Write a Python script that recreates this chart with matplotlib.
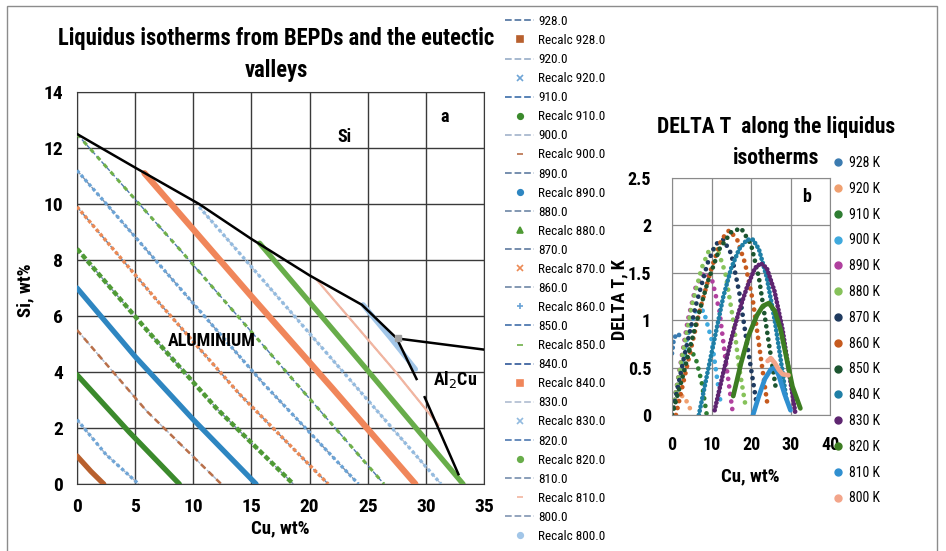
import matplotlib.pyplot as plt
from matplotlib.lines import Line2D
from matplotlib.patches import Rectangle

plt.rcParams['font.family'] = ['Roboto Condensed', 'DejaVu Sans']

# isotherm temperatures (K)
temps = [928, 920, 910, 900, 890, 880, 870, 860, 850, 840, 830, 820, 810, 800]

# liquidus isotherms (Cu wt%, Si wt%)
iso_cu = [
    [0, 1.2, 2.3],
    [0, 2.5, 5.3],
    [0, 4.5, 8.8],
    [0, 6, 12.4],
    [0, 5, 10, 15.4],
    [0, 6, 12, 18.6],
    [0, 7, 14, 21.6],
    [0, 8, 16, 24.2],
    [0, 9, 18, 26.4],
    [5.8, 15, 22, 29.1],
    [10.5, 21, 31.3],
    [15.7, 24.9, 33.2],
    [20.6, 27.2, 31.1],
    [24.6, 27, 29.1],
]
iso_si = [
    [1.0, 0.45, 0.0],
    [2.3, 1.05, 0.0],
    [3.9, 1.85, 0.0],
    [5.5, 2.6, 0.0],
    [7.0, 4.55, 2.3, 0.0],
    [8.4, 5.5, 2.7, 0.0],
    [9.9, 6.5, 3.2, 0.0],
    [11.2, 7.4, 3.6, 0.0],
    [12.5, 8.3, 4.0, 0.0],
    [11.1, 6.7, 3.4, 0.0],
    [9.9, 4.9, 0.0],
    [8.6, 4.1, 0.0],
    [7.3, 4.1, 2.1],
    [6.4, 5.2, 4.1],
]

# eutectic valleys
valley_cu = [0, 5, 10.5, 15, 20, 24.5, 27.5]
valley_si = [12.5, 11.3, 10.0, 8.75, 7.45, 6.4, 5.2]
si_al2cu_cu = [27.5, 35]
si_al2cu_si = [5.2, 4.8]
al2cu_top_cu = [27.5, 29.2]
al2cu_top_si = [5.2, 3.75]
al2cu_low_cu = [29.9, 32.8]
al2cu_low_si = [3.1, 0.35]
ternary_cu = [27.6]
ternary_si = [5.2]

# DELTA T along the isotherms (panel b)
dt_cu = [
    [0, 0.4, 1.0, 1.7, 2.4],
    [0, 1, 2, 3, 4, 5.3],
    [0, 1.5, 3, 4.5, 6, 7.5, 8.8],
    [0, 2, 4, 6, 8, 10, 12.4],
    [0, 2, 4, 6, 8, 10, 12, 13.5, 15.3],
    [0, 2.5, 5, 7.5, 9.5, 11.5, 13.5, 15.5, 17, 18.6],
    [0, 3, 6, 9, 11, 13, 15, 17, 19, 21.5],
    [1, 4, 7, 10, 12.5, 14.5, 16.5, 18.5, 20.5, 22.5, 24.2],
    [0, 3, 6, 9, 12, 15, 17.5, 20, 22, 24, 26.4],
    [6.8, 9, 11, 13, 15, 17, 19, 20.5, 22, 24, 26, 28, 29],
    [10.8, 13, 15, 17, 19, 21, 22.5, 24, 26, 28, 30, 31.3],
    [15.5, 17.5, 19.5, 21.5, 23, 24.5, 26, 27.5, 29, 30.5, 32.5],
    [20.5, 22, 23.5, 25, 26, 27, 28.5, 30],
    [24.2, 25, 26, 27, 28, 29.5],
]
dt_val = [
    [0.65, 0.78, 0.85, 0.85, 0.8],
    [0, 0.12, 0.2, 0.2, 0.12, 0],
    [0, 0.35, 0.6, 0.7, 0.6, 0.35, 0.0],
    [0, 0.45, 0.85, 1.1, 1.1, 0.8, 0.1],
    [0, 0.5, 1.0, 1.35, 1.5, 1.45, 1.1, 0.6, 0.05],
    [0, 0.6, 1.15, 1.55, 1.75, 1.75, 1.5, 1.0, 0.5, 0.1],
    [0, 0.6, 1.15, 1.6, 1.8, 1.85, 1.7, 1.3, 0.75, 0.1],
    [0, 0.55, 1.1, 1.55, 1.85, 1.95, 1.85, 1.6, 1.2, 0.6, 0.1],
    [0, 0.45, 0.95, 1.4, 1.75, 1.93, 1.97, 1.8, 1.45, 0.9, 0.25],
    [0, 0.45, 0.85, 1.25, 1.55, 1.75, 1.85, 1.85, 1.75, 1.45, 1.0, 0.45, 0.15],
    [0.05, 0.45, 0.8, 1.1, 1.35, 1.55, 1.6, 1.55, 1.3, 0.9, 0.35, 0.0],
    [0.2, 0.55, 0.85, 1.05, 1.15, 1.18, 1.1, 0.9, 0.6, 0.3, 0.07],
    [0, 0.2, 0.38, 0.48, 0.5, 0.42, 0.22, 0.05],
    [0.57, 0.6, 0.55, 0.48, 0.43, 0.42],
]

# styles
bepd_colors = ['#5a7ca6', '#9fb3cc', '#4a78b0', '#a9b9cf', '#6b86a8', '#7890ad',
               '#6a84a6', '#7a90ac', '#4f79b0', '#3f65a0', '#b5c2d4', '#5b82b6',
               '#8096b3', '#8a9db8']
recalc_colors = ['#b8602e', '#6fa5d6', '#3b8a2c', '#b9704a', '#2e86c1', '#4f9a35',
                 '#ec8a55', '#6aa3d6', '#6fb04a', '#f0865a', '#92badf', '#68ad4a',
                 '#f2b5a0', '#a2c6e8']
recalc_markers = ['s', 'x', 'o', '_', 'o', '^', 'x', '+', '_', 's', 'x', 'o', '_', 'o']
recalc_ls = ['-', (0, (1, 0.8)), '-', (0, (2.5, 1.8)), '-', (0, (1.2, 0.6)),
             (0, (1, 0.7)), (0, (1, 0.8)), (0, (1.5, 1.8)), '-', (0, (1, 0.8)), '-',
             '-', '-']
recalc_lw = [3.8, 2.4, 3.8, 1.8, 3.8, 3.2, 2.5, 2.4, 2.2, 4.5, 2.4, 3.8, 1.6, 3.8]

dt_colors = ['#3b7bb0', '#f0a070', '#2e7d32', '#3fa9dd', '#b0409e', '#86c25a',
             '#1f3a5f', '#c65a1e', '#1c5530', '#1f7fa6', '#5e2570', '#3d7d22',
             '#2f8fd0', '#f3a58a']
dt_ls = [(0, (0.01, 1.2)), (0, (0.01, 1.6)), (0, (0.01, 1.6)), (0, (0.01, 1.6)),
         (0, (0.01, 1.6)), (0, (0.01, 1.6)), (0, (0.01, 1.5)), (0, (0.01, 1.5)),
         (0, (0.01, 1.4)), (0, (0.01, 0.9)), (0, (0.01, 0.8)), '-', '-', '-']

W, H = 946, 551
fig = plt.figure(figsize=(W / 100, H / 100), dpi=100)
fig.add_artist(Rectangle((7 / W, -0.01), 930 / W, 1.0, transform=fig.transFigure,
                         fill=False, ec='#8c8c8c', lw=1))

# ---- panel a
ax = fig.add_axes([77 / W, 1 - 484 / H, 407 / W, 392 / H])
for i, t in enumerate(temps):
    ax.plot(iso_cu[i], iso_si[i], ls='--', lw=1, color=bepd_colors[i], zorder=2)
    ax.plot(iso_cu[i], iso_si[i], ls=recalc_ls[i], lw=recalc_lw[i],
            color=recalc_colors[i], solid_capstyle='round', zorder=3)
ax.plot(valley_cu, valley_si, color='black', lw=1.8, zorder=5)
ax.plot(si_al2cu_cu, si_al2cu_si, color='black', lw=1.8, zorder=5)
ax.plot(al2cu_top_cu, al2cu_top_si, color='black', lw=1.8, zorder=5)
ax.plot(al2cu_low_cu, al2cu_low_si, color='black', lw=1.8, zorder=5)
ax.plot(ternary_cu, ternary_si, ls='none', marker='s', ms=4, color='#a0a0a0', zorder=6)

ax.set_xlim(0, 35)
ax.set_ylim(0, 14)
ax.set_xticks(range(0, 36, 5))
ax.set_yticks(range(0, 15, 2))
ax.grid(True, color='#3a3a3a', lw=1)
ax.set_axisbelow(True)
for s in ax.spines.values():
    s.set_color('#3a3a3a')
ax.tick_params(length=0, labelsize=14, pad=10)
for lab in ax.get_xticklabels() + ax.get_yticklabels():
    lab.set_fontweight('bold')

ax.text(23, 12.4, 'Si', fontsize=13, weight='bold', ha='center', va='center')
ax.text(31.6, 13.1, 'a', fontsize=13, weight='bold', ha='center', va='center')
ax.text(11.6, 5.1, 'ALUMINIUM', fontsize=13, weight='bold', ha='center', va='center')
ax.text(32.5, 3.75, 'Al$_2$Cu', fontsize=13, weight='bold', ha='center', va='center')

fig.text(276 / W, 1 - 38 / H, 'Liquidus isotherms from BEPDs and the eutectic',
         ha='center', va='center', fontsize=16.3, weight='bold')
fig.text(276 / W, 1 - 70 / H, 'valleys', ha='center', va='center',
         fontsize=16.3, weight='bold')
fig.text(25 / W, 1 - 290 / H, 'Si, wt%', rotation=90, ha='center', va='center',
         fontsize=13.5, weight='bold')
fig.text(280 / W, 1 - 528 / H, 'Cu, wt%', ha='center', va='center',
         fontsize=13.5, weight='bold')

handles, labels = [], []
for i, t in enumerate(temps):
    handles.append(Line2D([], [], ls='--', lw=1.3, color=bepd_colors[i]))
    labels.append(f'{t}.0')
    handles.append(Line2D([], [], ls='none', marker=recalc_markers[i], ms=4,
                          mew=1.2, color=recalc_colors[i]))
    labels.append(f'Recalc {t}.0')
fig.legend(handles, labels, loc='upper left', bbox_to_anchor=(505 / W, 1 - 15 / H),
           frameon=False, fontsize=9.5, handlelength=2.2, handletextpad=0.3,
           labelspacing=0.46, borderpad=0, borderaxespad=0)

# ---- panel b
ax2 = fig.add_axes([672 / W, 1 - 415 / H, 158 / W, 237 / H])
for i, t in enumerate(temps):
    ax2.plot(dt_cu[i], dt_val[i], ls=dt_ls[i], lw=3.4, color=dt_colors[i],
             dash_capstyle='round', solid_capstyle='round', label=f'{t} K')
ax2.set_xlim(0, 40)
ax2.set_ylim(0, 2.5)
ax2.set_xticks(range(0, 41, 10))
ax2.set_yticks([0, 0.5, 1, 1.5, 2, 2.5])
ax2.set_yticklabels(['0', '0.5', '1', '1.5', '2', '2.5'])
ax2.grid(True, color='#8a8a8a', lw=0.9)
ax2.set_axisbelow(True)
for s in ax2.spines.values():
    s.set_color('#8a8a8a')
ax2.tick_params(length=0, labelsize=13, pad=15)
for lab in ax2.get_xticklabels() + ax2.get_yticklabels():
    lab.set_fontweight('bold')
ax2.text(34, 2.3, 'b', fontsize=13, weight='bold', ha='center', va='center')

fig.text(776 / W, 1 - 127 / H, 'DELTA T  along the liquidus', ha='center',
         va='center', fontsize=15.5, weight='bold')
fig.text(776 / W, 1 - 158 / H, 'isotherms', ha='center', va='center',
         fontsize=15.5, weight='bold')
fig.text(619 / W, 1 - 300 / H, 'DELTA T, K', rotation=90, ha='center', va='center',
         fontsize=13, weight='bold')
fig.text(750 / W, 1 - 476 / H, 'Cu, wt%', ha='center', va='center',
         fontsize=13.5, weight='bold')

h2 = [Line2D([], [], ls='none', marker='o', ms=5, color=c) for c in dt_colors]
fig.legend(h2, [f'{t} K' for t in temps], loc='upper left',
           bbox_to_anchor=(832 / W, 1 - 156 / H), frameon=False, fontsize=10,
           handlelength=0.8, handletextpad=0.4, labelspacing=0.85, borderpad=0,
           borderaxespad=0)

fig.savefig('out.png', dpi=100)
